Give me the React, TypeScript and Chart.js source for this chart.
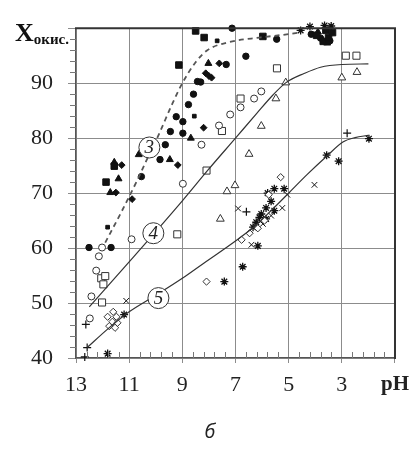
import React, { useEffect, useRef } from 'react';
import { Chart, registerables } from 'chart.js';

Chart.register(...registerables);

// ---- data (pH, X_окис.) ----
const filledSquares: number[][] = [[8.5, 99.5], [8.18, 98.3], [5.97, 98.5], [9.13, 93.3], [11.56, 74.9], [11.87, 72.0], [3.95, 98.7], [3.7, 97.6], [3.5, 98.3], [3.35, 99.2], [3.6, 99.6]];
const smallFilledSquares: number[][] = [[7.69, 97.7], [8.55, 84.0], [11.81, 63.8]];
const filledCircles: number[][] = [[7.13, 100], [6.61, 94.9], [7.35, 93.4], [8.43, 90.3], [8.31, 90.2], [8.58, 88], [8.77, 86.1], [9.23, 83.9], [8.98, 83], [9.45, 81.2], [8.98, 80.9], [9.64, 78.8], [9.84, 76.1], [10.54, 73.0], [5.45, 98.0], [12.51, 60.1], [11.68, 60.1], [4.15, 98.9], [3.8, 98.2], [3.45, 97.7]];
const filledTriangles: number[][] = [[8.02, 93.6], [8.68, 80], [10.64, 77.0], [9.47, 76.1], [11.56, 75.6], [11.4, 72.6], [11.71, 70.1], [3.9, 99.3], [3.55, 97.3]];
const filledDiamonds: number[][] = [[7.61, 93.6], [8.12, 91.8], [8.0, 91.3], [7.9, 91.0], [8.2, 81.9], [9.17, 75.1], [11.28, 75.1], [11.5, 70.1], [10.89, 68.9]];
const openCircles: number[][] = [[6.81, 85.6], [6.3, 87.2], [6.03, 88.5], [7.2, 84.3], [7.62, 82.3], [8.28, 78.8], [8.98, 71.7], [10.91, 61.6], [12.02, 60.1], [12.14, 58.5], [12.24, 55.9], [12.42, 51.2], [12.48, 47.2]];
const openSquares: number[][] = [[6.81, 87.2], [7.51, 81.3], [5.44, 92.7], [2.85, 95.0], [2.45, 95.0], [8.09, 74.1], [9.19, 62.5], [12.05, 54.5], [11.9, 54.9], [11.97, 53.4], [12.02, 50.1]];
const openTriangles: number[][] = [[6.03, 82.2], [5.11, 90.1], [5.48, 87.2], [3.0, 91.0], [2.43, 92.0], [6.49, 77.1], [7.02, 71.4], [7.32, 70.3], [7.57, 65.3]];
const openDiamonds: number[][] = [[5.3, 72.9], [6.77, 61.5], [6.47, 62.7], [6.16, 63.6], [5.91, 65.0], [8.09, 53.9], [5.75, 69.7], [11.81, 47.5], [11.6, 48.4], [11.63, 46.6], [11.48, 47.5], [11.44, 46.4], [11.75, 45.8], [11.53, 45.5]];
const pluses: number[][] = [[2.8, 80.9], [6.59, 66.6], [12.63, 46.1], [12.58, 41.9], [12.67, 40.2]];
const crosses: number[][] = [[6.9, 67.2], [4.03, 71.5], [5.24, 67.3], [5.05, 69.7], [6.4, 60.6], [11.11, 50.4], [5.66, 65.9], [5.97, 64.4]];
const asterisks: number[][] = [[1.98, 79.9], [3.57, 76.9], [3.12, 75.8], [5.17, 70.8], [5.66, 68.5], [6.03, 66.2], [6.16, 60.4], [6.73, 56.6], [7.42, 53.9], [11.19, 47.9], [11.81, 40.8], [5.79, 70.0], [5.85, 67.3], [5.54, 66.8], [6.1, 65.6], [5.85, 65.3], [6.22, 64.7], [6.34, 63.8], [5.54, 70.8], [4.55, 99.6], [4.2, 100.3], [3.65, 100.5], [3.4, 100.4]];

const curve3: number[][] = [[11.9, 61], [11.3, 66.5], [10.7, 72.3], [10.2, 77.5], [9.9, 80.5], [9.4, 86], [9.0, 90], [8.5, 93.8], [8.06, 96.0], [7.3, 97.4], [6.1, 98.3], [5.2, 98.8], [4.6, 99.2]];
const curve4: number[][] = [[12.5, 49.3], [11, 57.5], [10, 63], [9, 68.6], [8, 74.4], [7, 80], [6.2, 84.5], [5.6, 87.8], [5.1, 90.1], [4.4, 91.8], [3.8, 92.9], [3.0, 93.4], [2.0, 93.5]];
const curve5: number[][] = [[12.58, 41.9], [11.8, 45.3], [11, 48.4], [10, 51.4], [9, 54.5], [8.18, 57.3], [7, 61.3], [6.22, 64.2], [5.6, 67.1], [5.0, 70.0], [4.3, 73.4], [3.57, 76.7], [2.96, 79.3], [2.5, 80.1], [2.0, 80.5]];

const curveLabels = ['3', '4', '5'];
const curveLabelPos: number[][] = [[10.24, 78.3], [10.09, 62.7], [9.9, 50.9]];

const xMin = 1, xMax = 13, xStep = 2, xMinorStep = 0.4;
const yMin = 40, yMax = 100, yStep = 10, yMinorStep = 2;
const yTitleMain = 'X';
const yTitleSub = 'окис.';
const xTitle = 'pH';
const caption = 'б';

const pts = (a: number[][]) => a.map(([x, y]) => ({ x, y }));

const SERIF = '"Liberation Serif", "Times New Roman", serif';

const App = () => {
  const ref = useRef<HTMLCanvasElement | null>(null);
  useEffect(() => {
    document.body.style.margin = '0';
    const canvas = ref.current;
    if (!canvas) return;

    const decor = {
      id: 'decor',
      afterDatasetsDraw(chart: any) {
        const { ctx, scales } = chart;
        const xs = scales.x, ys = scales.y;
        ctx.save();
        curveLabels.forEach((t, i) => {
          const px = xs.getPixelForValue(curveLabelPos[i][0]);
          const py = ys.getPixelForValue(curveLabelPos[i][1]);
          ctx.beginPath();
          ctx.arc(px, py, 10.5, 0, Math.PI * 2);
          ctx.fillStyle = '#fff';
          ctx.fill();
          ctx.lineWidth = 1;
          ctx.strokeStyle = '#333';
          ctx.stroke();
          ctx.fillStyle = '#222';
          ctx.font = 'italic 19px ' + SERIF;
          ctx.textAlign = 'center';
          ctx.textBaseline = 'middle';
          ctx.fillText(t, px, py + 1);
        });
        ctx.restore();
      },
      afterDraw(chart: any) {
        const { ctx, scales, chartArea: a } = chart;
        const xs = scales.x, ys = scales.y;
        ctx.save();
        ctx.setLineDash([]);
        // minor ticks
        ctx.strokeStyle = '#777';
        ctx.lineWidth = 1;
        ctx.beginPath();
        for (let v = yMin; v <= yMax + 1e-6; v += yMinorStep) {
          if (Math.abs(v % yStep) < 1e-6) continue;
          const py = Math.round(ys.getPixelForValue(v)) + 0.5;
          ctx.moveTo(a.left - 6, py);
          ctx.lineTo(a.left, py);
        }
        const nMinor = Math.round((xMax - xMin) / xMinorStep);
        for (let k = 0; k <= nMinor; k++) {
          if (k % Math.round(xStep / xMinorStep) === 0) continue;
          const px = Math.round(xs.getPixelForValue(xMin + k * xMinorStep)) + 0.5;
          ctx.moveTo(px, a.bottom);
          ctx.lineTo(px, a.bottom - 6);
        }
        ctx.stroke();
        // top and right frame
        ctx.strokeStyle = '#333';
        ctx.lineWidth = 2;
        ctx.beginPath();
        ctx.moveTo(a.left - 1, a.top);
        ctx.lineTo(a.right, a.top);
        ctx.lineTo(a.right, a.bottom + 1);
        ctx.stroke();
        // y title in place of the top tick
        const ty = ys.getPixelForValue(yMax);
        ctx.fillStyle = '#111';
        ctx.textBaseline = 'alphabetic';
        ctx.textAlign = 'right';
        ctx.font = 'bold 15px ' + SERIF;
        const subW = ctx.measureText(yTitleSub).width;
        ctx.fillText(yTitleSub, 69, ty + 16);
        ctx.font = 'bold 26px ' + SERIF;
        ctx.fillText(yTitleMain, 69 - subW, ty + 13);
        // caption
        ctx.font = 'italic 20px "Open Sans", "DejaVu Sans", sans-serif';
        ctx.textAlign = 'center';
        ctx.textBaseline = 'middle';
        ctx.fillStyle = '#222';
        ctx.fillText(caption, 210, 432);
        ctx.restore();
      },
    };

    const marker = (data: number[][], style: string, r: number, filled: boolean, bw = 1) => ({
      data: pts(data),
      pointStyle: style,
      pointRadius: r,
      pointHoverRadius: r,
      backgroundColor: filled ? '#111' : '#fff',
      borderColor: filled ? '#111' : '#333',
      pointBorderWidth: bw,
      borderWidth: bw,
      showLine: false,
      clip: false,
    });

    const line = (data: number[][], dash: number[], w: number, color: string) => ({
      data: pts(data),
      showLine: true,
      pointRadius: 0,
      pointHoverRadius: 0,
      borderColor: color,
      borderWidth: w,
      borderDash: dash,
      backgroundColor: 'transparent',
      cubicInterpolationMode: 'monotone',
      fill: false,
      clip: false,
    });

    const chart = new Chart(canvas, {
      type: 'scatter',
      data: {
        datasets: [
          line(curve3, [5, 4], 1.8, '#555'),
          line(curve4, [], 1.2, '#333'),
          line(curve5, [], 1.2, '#333'),
          marker(filledSquares, 'rect', 4.6, true),
          marker(smallFilledSquares, 'rect', 2.6, true),
          marker(filledCircles, 'circle', 3.2, true),
          marker(filledTriangles, 'triangle', 4, true),
          marker(filledDiamonds, 'rectRot', 3.4, true),
          marker(openCircles, 'circle', 3.5, false),
          marker(openSquares, 'rect', 5, false),
          marker(openTriangles, 'triangle', 4.5, false),
          marker(openDiamonds, 'rectRot', 3.6, false),
          marker(pluses, 'cross', 4, true, 1.2),
          marker(crosses, 'crossRot', 4, true, 1),
          marker(asterisks, 'star', 4, true, 1.3),
        ] as any,
      },
      options: {
        animation: false,
        responsive: false,
        maintainAspectRatio: false,
        events: [],
        layout: { padding: { left: 0, right: 15, top: 15, bottom: 0 } },
        plugins: { legend: { display: false }, tooltip: { enabled: false }, title: { display: false } },
        scales: {
          x: {
            type: 'linear',
            reverse: true,
            min: xMin,
            max: xMax,
            afterFit: (s: any) => { s.height = 91; },
            ticks: {
              stepSize: xStep,
              padding: 9,
              color: '#222',
              maxRotation: 0,
              autoSkip: false,
              font: (c: any) => (c.tick && c.tick.value === xMin
                ? { family: SERIF, size: 21, weight: 'bold' }
                : { family: SERIF, size: 22 }) as any,
              callback: (v: any) => (v === xMin ? xTitle : String(v)),
            },
            grid: { display: true, color: '#8c8c8c', lineWidth: 1, tickLength: 5, drawTicks: true },
            border: { display: true, color: '#555', width: 1.3 },
          },
          y: {
            type: 'linear',
            min: yMin,
            max: yMax,
            afterFit: (s: any) => { s.width = 76; },
            ticks: {
              stepSize: yStep,
              padding: 15,
              color: '#222',
              font: { family: SERIF, size: 22 },
              callback: (v: any) => (v === yMax ? '' : String(v)),
            },
            grid: { display: true, color: '#8c8c8c', lineWidth: 1, tickLength: 8, drawTicks: true },
            border: { display: true, color: '#555', width: 1.3 },
          },
        },
      } as any,
      plugins: [decor],
    });
    return () => chart.destroy();
  }, []);

  return <canvas ref={ref} width={418} height={449} style={{ display: 'block', width: 418, height: 449 }} />;
};

export default App;
